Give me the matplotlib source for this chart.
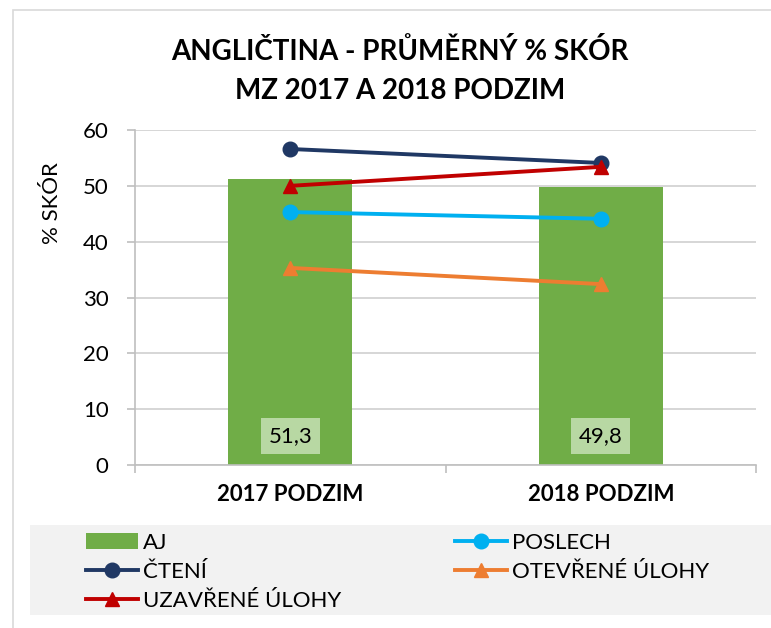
import matplotlib.pyplot as plt
import numpy as np
from matplotlib.patches import Rectangle

## data
kategorie = ["2017 PODZIM", "2018 PODZIM"]
aj = [51.3, 49.8]
cteni = [56.6, 54.1]
poslech = [45.3, 44.1]
uzavrene = [50.0, 53.4]
otevrene = [35.3, 32.4]

plt.rcParams['font.family'] = ['Lato', 'DejaVu Sans']

fig = plt.figure(figsize=(7.71, 6.28), dpi=100)
W, H = 771., 628.

## okraj grafu
fig.patches.append(Rectangle((13/W, -0.01), 1, 1 - 10/H + 0.01, transform=fig.transFigure,
                             fill=False, edgecolor='#D9D9D9', lw=1.2))
## pozadi legendy
fig.patches.append(Rectangle((30/W, 1 - 615/H), 1, 90/H, transform=fig.transFigure,
                             facecolor='#F2F2F2', edgecolor='none'))

ax = fig.add_axes([135/W, 1 - 465/H, 621/W, 335/H])
x = np.arange(len(kategorie))

bars = ax.bar(x, aj, width=0.4, color='#70AD47', label='AJ', zorder=2)
for xi, v in zip(x, aj):
    ax.annotate(f"{v:.1f}".replace('.', ','), (xi, 0), xytext=(0, 21),
                textcoords='offset points', ha='center', va='center', fontsize=16,
                bbox=dict(boxstyle='square,pad=0.35', fc='#B8D8A3', ec='none'), zorder=4)

l_cteni, = ax.plot(x, cteni, color='#203864', lw=2.8, marker='o', ms=10.5, label='ČTENÍ', zorder=3)
l_uz, = ax.plot(x, uzavrene, color='#C00000', lw=2.8, marker='^', ms=10.5, label='UZAVŘENÉ ÚLOHY', zorder=3)
l_pos, = ax.plot(x, poslech, color='#00B0F0', lw=2.8, marker='o', ms=10.5, label='POSLECH', zorder=3)
l_ot, = ax.plot(x, otevrene, color='#ED7D31', lw=2.8, marker='^', ms=10.5, label='OTEVŘENÉ ÚLOHY', zorder=3)

ax.set_xlim(-0.5, 1.5)
ax.set_ylim(0, 60)
ax.set_yticks(range(0, 61, 10))
ax.yaxis.grid(True, color='#D0D0D0', lw=1.2, zorder=0)
ax.set_axisbelow(True)
for s in ['top', 'right']:
    ax.spines[s].set_visible(False)
for s in ['bottom', 'left']:
    ax.spines[s].set_color('#BFBFBF')
    ax.spines[s].set_linewidth(1.2)
ax.tick_params(axis='y', length=6, color='#BFBFBF', width=1.2, labelsize=16, pad=13)
ax.set_xticks(x)
ax.set_xticklabels(kategorie, fontsize=16, fontweight='bold')
ax.set_xticks([-0.5, 0.5, 1.5], minor=True)
ax.tick_params(axis='x', which='major', length=0, pad=14)
ax.tick_params(axis='x', which='minor', length=6, color='#BFBFBF', width=1.2)
fig.text(52/W, 1 - 203/H, '% SKÓR', rotation=90, ha='center', va='center', fontsize=16)

fig.text(400/W, 1 - 52/H, 'ANGLIČTINA - PRŮMĚRNÝ % SKÓR', ha='center', va='center',
         fontsize=20, fontweight='bold')
fig.text(400/W, 1 - 91/H, 'MZ 2017 A 2018 PODZIM', ha='center', va='center',
         fontsize=20, fontweight='bold')

## legenda ve dvou sloupcich
opts = dict(loc='upper left', frameon=False, fontsize=16, handlelength=2.35,
            handletextpad=0.22, labelspacing=0.4, borderpad=0, borderaxespad=0,
            handleheight=0.7)
fig.legend(handles=[bars, l_cteni, l_uz], bbox_to_anchor=(86/W, 1 - 533/H), **opts)
fig.legend(handles=[l_pos, l_ot], bbox_to_anchor=(455/W, 1 - 533/H), **opts)

fig.savefig('out.png', dpi=100)
